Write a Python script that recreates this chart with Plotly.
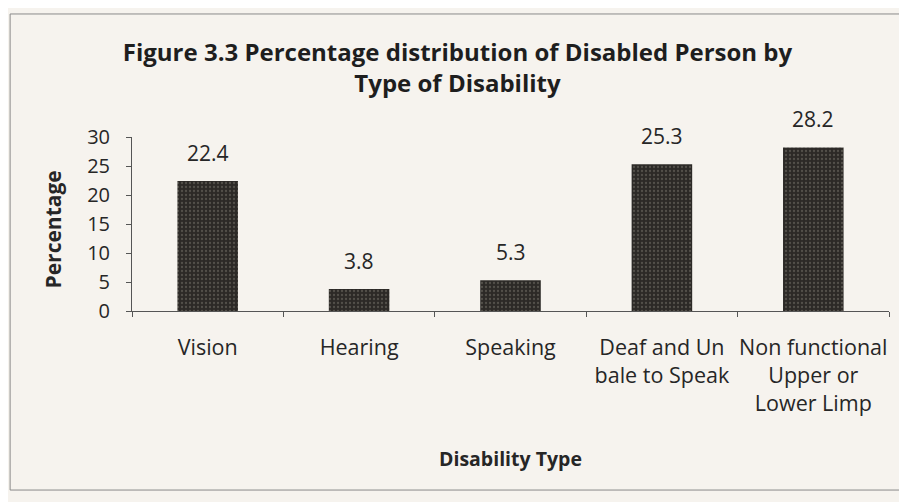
import plotly.graph_objects as go

categories = ["Vision", "Hearing", "Speaking", "Deaf and Un<br>bale to Speak", "Non functional<br>Upper or<br>Lower Limp"]
values = [22.4, 3.8, 5.3, 25.3, 28.2]
value_labels = ["22.4", "3.8", "5.3", "25.3", "28.2"]
y_ticks = [0, 5, 10, 15, 20, 25, 30]

FONT = "Open Sans"
BG = "#f6f3ee"
TXT = "#262626"

fig = go.Figure()
fig.add_trace(go.Bar(
    x=categories, y=values, width=0.4,
    marker=dict(color="#2c2926", line=dict(width=0),
                pattern=dict(shape=".", fgcolor="#7a756e", size=4, solidity=0.25)),
    showlegend=False,
))
for c, v, t in zip(categories, values, value_labels):
    fig.add_annotation(x=c, y=v, text=t, showarrow=False, yanchor="bottom", yshift=12,
                       font=dict(family=FONT, size=21, color=TXT))

fig.update_layout(
    width=899, height=494,
    paper_bgcolor=BG, plot_bgcolor=BG,
    margin=dict(l=124, r=18, t=129, b=191, autoexpand=False),
    showlegend=False,
    title=dict(text="<b>Figure 3.3 Percentage distribution of Disabled Person by<br>Type of Disability</b>",
               x=0.5, xanchor="center", y=0.893, yanchor="middle",
               font=dict(family=FONT, size=24, color="#1e1e1e")),
    font=dict(family=FONT, color=TXT),
)
fig.update_xaxes(
    showline=True, linecolor="#555", linewidth=1, automargin=False,
    ticks="outside", tickson="boundaries", ticklen=5, tickcolor="#555",
    tickangle=0, ticklabelstandoff=17,
    tickfont=dict(family=FONT, size=21.5, color=TXT),
    showgrid=False,
)
fig.update_yaxes(
    range=[0, 30], tickvals=y_ticks, showline=True, linecolor="#555", linewidth=1,
    automargin=False,
    ticks="outside", ticklen=5, tickcolor="#555", showgrid=False, zeroline=False,
    ticklabelstandoff=12,
    tickfont=dict(family=FONT, size=20, color=TXT),
)
fig.add_annotation(text="<b>Percentage</b>", xref="paper", yref="paper", x=-0.104, y=0.47,
                   textangle=-90, showarrow=False, xanchor="center", yanchor="middle",
                   font=dict(family=FONT, size=21, color=TXT))
fig.add_annotation(text="<b>Disability Type</b>", xref="paper", yref="paper", x=0.5, y=-0.845,
                   showarrow=False, xanchor="center", yanchor="middle",
                   font=dict(family=FONT, size=19.5, color=TXT))
fig.add_shape(type="rect", xref="paper", yref="paper", x0=-0.161, x1=1.1, y0=-1.029, y1=1.707,
              line=dict(color="#8a8a8a", width=1), fillcolor="rgba(0,0,0,0)")
fig.write_html("out.html")
